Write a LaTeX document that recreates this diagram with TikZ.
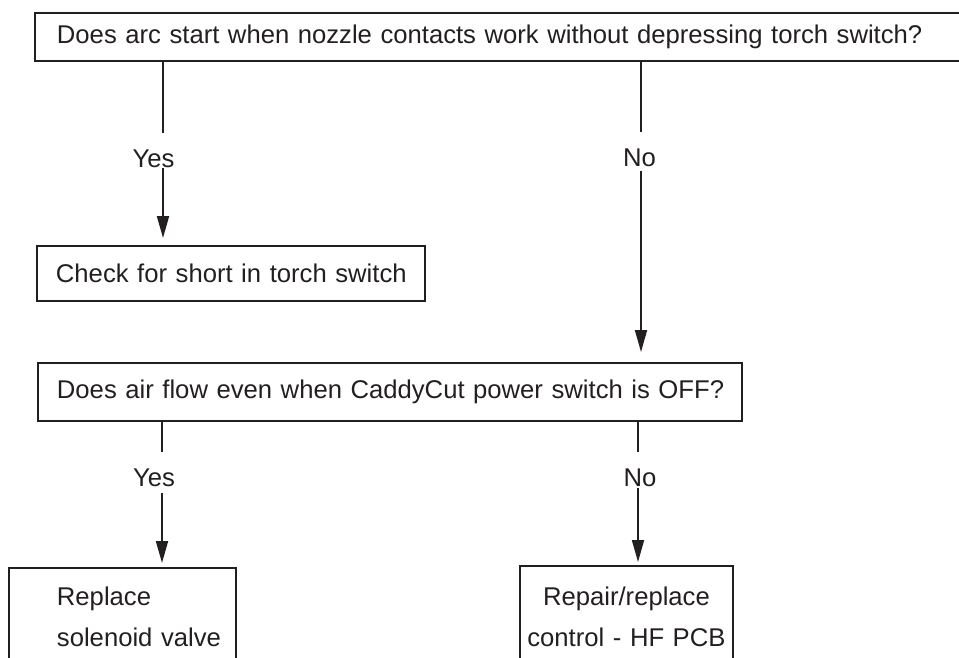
\documentclass[tikz,border=0pt]{standalone}
\usepackage{fontspec}
\setmainfont{Liberation Sans}
\usetikzlibrary{arrows.meta}
\definecolor{ink}{HTML}{231F20}

\begin{document}
\begin{tikzpicture}[x=0.02cm,y=-0.02cm,color=ink,
  box/.style={draw,line width=1.1pt,anchor=north west,inner ysep=0pt,align=left,font=\fontsize{14.6}{23.3}\selectfont},
  answer/.style={anchor=base,inner sep=0pt,font=\fontsize{14.6}{18}\selectfont},
  wire/.style={line width=1.1pt,shorten >=0.32cm},
  flow/.style={line width=1.1pt,-{Triangle[length=12.5pt,width=6.8pt]}}]
\useasboundingbox (0,0) rectangle (959,657);
\clip (0,0) rectangle (959,657);
\node[box,inner xsep=0.44cm,text width=17.94cm,minimum height=0.96cm] (qa) at (34,12) {Does arc start when nozzle contacts work without depressing torch switch?};
\node[box,inner xsep=0.38cm,text width=7cm,minimum height=1.1cm] (check) at (36,245) {\mbox{Check for short in torch switch}};
\node[box,inner xsep=0.38cm,text width=13.32cm,minimum height=1.16cm] (qb) at (37,362) {\mbox{Does air flow even when CaddyCut power switch is OFF?}};
\node[box,inner xsep=0pt,inner ysep=0.38cm,text width=4.54cm] (valve) at (8,567) {\hspace*{0.96cm}Replace\\\hspace*{0.96cm}solenoid valve};
\node[box,align=center,inner xsep=0.08cm,inner ysep=0.42cm,text width=4.1cm] (pcb) at (519,565) {Repair/replace\\control - HF PCB};
\node[answer] (ans1y) at (153.5,167) {Yes}; \node[answer] (ans1n) at (639.5,166) {No};
\node[answer] (ans2y) at (154,486) {Yes}; \node[answer] (ans2n) at (640,486) {No};
\coordinate (ya) at (163,0); \coordinate (na) at (641,0); \coordinate (yb) at (162,0); \coordinate (nb) at (638,0);
\foreach \from/\to/\lx in {qa/ans1y/ya, qa/ans1n/na, qb/ans2y/yb, qb/ans2n/nb} { \draw[wire] (\from.south -| \lx) -- (\to.north -| \lx); };
\foreach \from/\to/\lx/\s/\e in {ans1y/check/ya/0cm/0.14cm, ans1n/qb/na/0.08cm/0.2cm, ans2y/valve/yb/0.12cm/0.08cm, ans2n/pcb/nb/0.02cm/0.06cm} { \draw[flow,shorten <=\s,shorten >=\e] (\from.south -| \lx) -- (\to.north -| \lx); };
\end{tikzpicture}
\end{document}
